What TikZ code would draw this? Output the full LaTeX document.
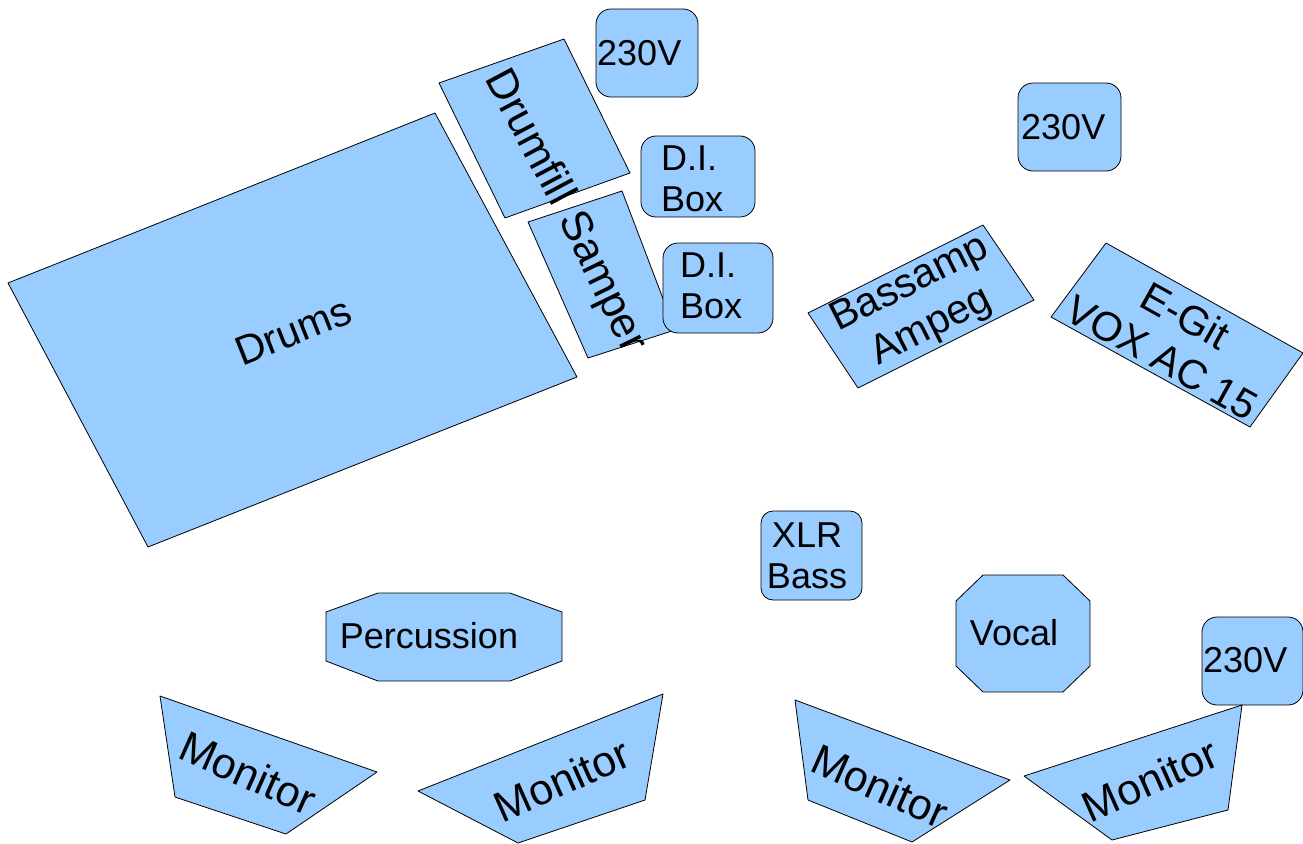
\documentclass[tikz,border=0pt]{standalone}
\usepackage{fontspec}
\setmainfont{Liberation Sans}
\usepackage{xcolor}
\definecolor{stageblue}{HTML}{99CCFF}

\tikzset{
  gear/.style={draw=black, fill=stageblue, line width=0.8pt, line join=round},
  plug/.style={gear, rounded corners=15pt},
  bigtext/.style={inner sep=0pt, align=center, font=\fontsize{43}{49}\selectfont},
  midtext/.style={inner sep=0pt, align=center, font=\fontsize{41}{48}\selectfont},
  smalltext/.style={inner sep=0pt, align=left, font=\fontsize{36}{41}\selectfont}
}

\begin{document}
\begin{tikzpicture}[x=1pt,y=-1pt]
  \useasboundingbox (0,0) rectangle (1303,843);
  % drums side
  \draw[gear] (8,283) -- (435,113) -- (577,377) -- (148,547) -- cycle;
  \node[midtext, rotate=21.7] (drums) at (293,331) {Drums};
  \draw[gear] (439,83) -- (564,39) -- (630,173) -- (505,218) -- cycle;
  \node[bigtext, rotate=-62] (drumfill) at (532,136) {Drumfill};
  \draw[gear] (528,222) -- (622,191) -- (675,330) -- (588,358) -- cycle;
  \node[bigtext, rotate=-64] (samper) at (601,283) {Samper};

  \draw[plug] (596,9) rectangle (698,97);
  \node[smalltext, anchor=west] (powera) at (597,53) {230V};
  \draw[plug] (641,136) rectangle (755,217);
  \node[smalltext, anchor=west] (dia) at (661,179) {D.I.\\Box};
  \draw[plug] (663,243) rectangle (773,333);
  \node[smalltext, anchor=west] (dib) at (680,286) {D.I.\\Box};

  % amps
  \draw[plug] (1018,83) rectangle (1121,171);
  \node[smalltext, anchor=west] (powerb) at (1021,127) {230V};
  \draw[gear] (808,313) -- (983,225) -- (1034,300) -- (858,388) -- cycle;
  \node[midtext, rotate=26.7] (bassamp) at (921,306) {Bassamp\\Ampeg};
  \draw[gear] (1106,243) -- (1303,353) -- (1250,427) -- (1051,317) -- cycle;
  \node[midtext, rotate=-29.2] (egit) at (1174,336) {E-Git\\VOX AC 15};

  % front
  \draw[plug, rounded corners=12pt] (761,511) rectangle (862,600);
  \node[smalltext, align=center] (xlr) at (807,556) {XLR\\Bass};
  \draw[gear] (378,593) -- (510,593) -- (562,612) -- (562,661) -- (510,681)
    -- (378,681) -- (326,661) -- (326,612) -- cycle;
  \node[smalltext] (perc) at (429,636) {Percussion};
  \draw[gear] (983,575) -- (1063,575) -- (1090,601) -- (1090,666) -- (1063,692)
    -- (983,692) -- (956,666) -- (956,601) -- cycle;
  \node[smalltext] (vocal) at (1014,633) {Vocal};
  \draw[plug] (1202,617) rectangle (1303,705);
  \node[smalltext, anchor=west] (powerc) at (1203,660) {230V};

  % monitors
  \draw[gear] (160,696) -- (377,772) -- (286,834) -- (175,797) -- cycle;
  \node[bigtext, rotate=-24] (mona) at (248,773) {Monitor};
  \draw[gear] (663,694) -- (645,800) -- (518,843) -- (418,791) -- cycle;
  \node[bigtext, rotate=24] (monb) at (562,780) {Monitor};
  \draw[gear] (795,700) -- (1010,780) -- (912,842) -- (808,800) -- cycle;
  \node[bigtext, rotate=-24] (monc) at (880,786) {Monitor};
  \draw[gear] (1242,705) -- (1228,810) -- (1112,840) -- (1024,776) -- cycle;
  \node[bigtext, rotate=24] (mond) at (1150,780) {Monitor};
\end{tikzpicture}
\end{document}
